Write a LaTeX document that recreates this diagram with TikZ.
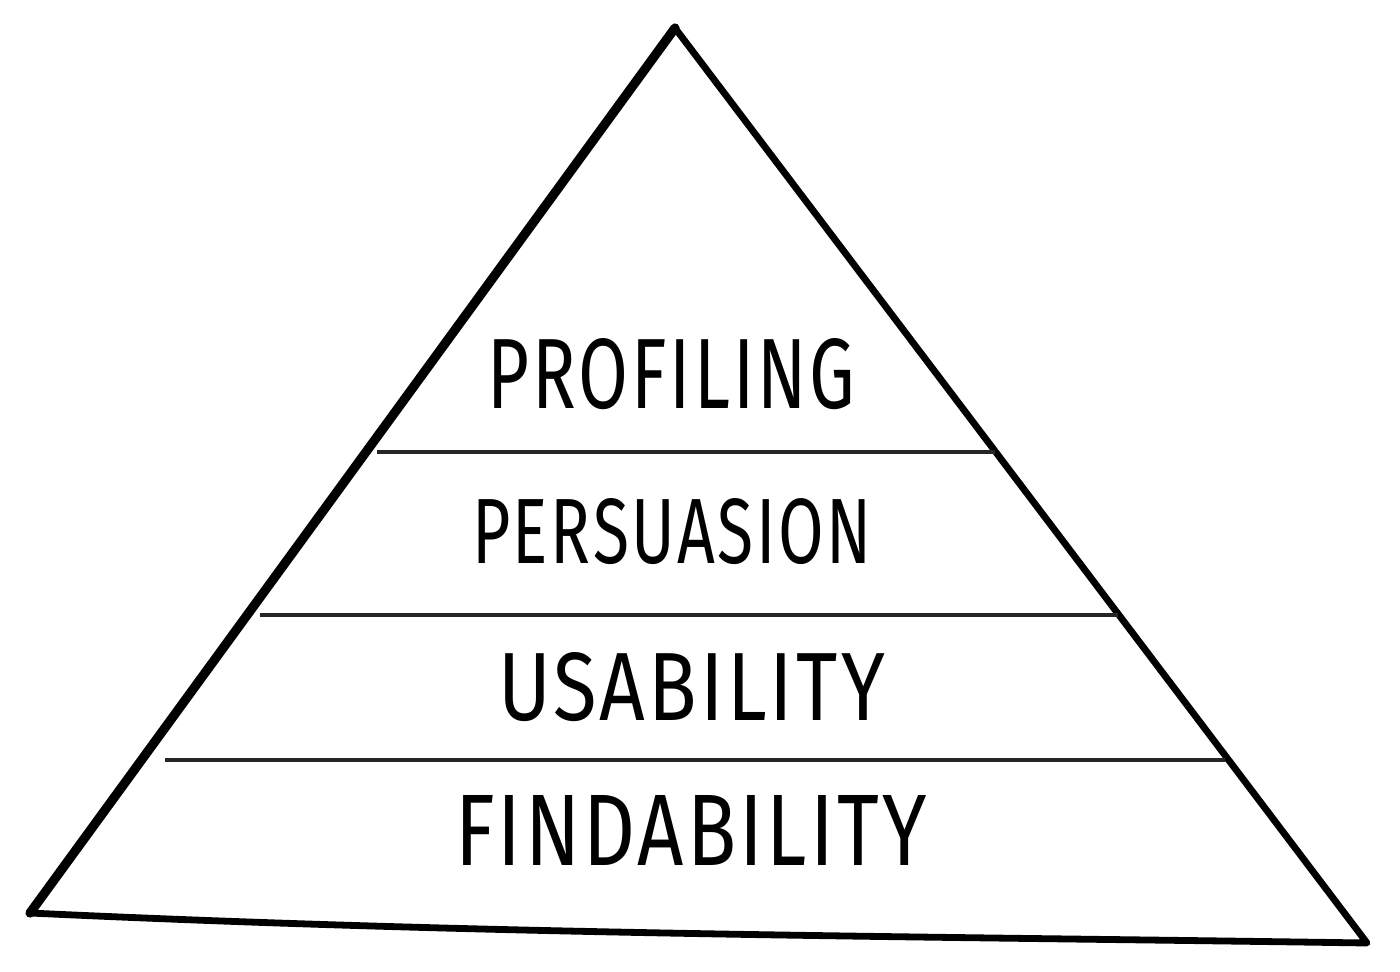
\documentclass[tikz,border=0pt]{standalone}
\usepackage{fontspec}
\setmainfont{Fira Sans}
\newcommand{\fitlabel}[3]{\resizebox{#1pt}{#2pt}{#3}}
\begin{document}
\begin{tikzpicture}[x=0.5pt,y=-0.5pt,
  outline/.style={line width=3.4pt,line join=round,line cap=round},
  divider/.style={line width=2pt,draw=black!85},
  label/.style={font=\fontsize{44}{48}\selectfont\addfontfeatures{LetterSpace=4}, inner sep=0pt, anchor=center}]
\useasboundingbox (0,0) rectangle (1400,972);
\coordinate (apex) at (675,28);
\coordinate (bl) at (30,913);
\coordinate (br) at (1367,943);
\draw[outline] (bl) .. controls (500,935) and (900,936) .. (br) -- (apex);
\draw[outline, line width=4.6pt] (apex) -- (bl);
\coordinate (l1a) at (377,452); \coordinate (l1b) at (995,452);
\coordinate (l2a) at (260,615); \coordinate (l2b) at (1118,615);
\coordinate (l3a) at (165,760); \coordinate (l3b) at (1225,760);
\draw[divider] (l1a) -- (l1b);
\draw[divider] (l2a) -- (l2b);
\draw[divider] (l3a) -- (l3b);
\node[label] (t1) at (671.5,374) {\fitlabel{183.5}{35}{PROFILING}};
\node[label] (t2) at (672,532) {\fitlabel{200}{32.5}{PERSUASION}};
\node[label] (t3) at (691.5,687) {\fitlabel{193.5}{34}{USABILITY}};
\node[label] (t4) at (691,830) {\fitlabel{236}{35}{FINDABILITY}};
\end{tikzpicture}
\end{document}
